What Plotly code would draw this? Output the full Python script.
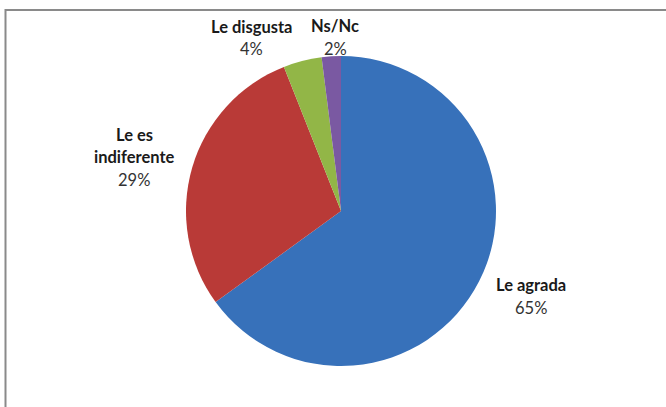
import plotly.graph_objects as go

# Data
categories = ["Le agrada", "Le es indiferente", "Le disgusta", "Ns/Nc"]
values = [65, 29, 4, 2]
percent_labels = ["65%", "29%", "4%", "2%"]
name_lines = [["Le agrada"], ["Le es", "indiferente"], ["Le disgusta"], ["Ns/Nc"]]

# Styles / layout
colors = ["#3771BA", "#B93A37", "#92B647", "#7A59A2"]
W, H = 666, 407
cx, cy, r = 341, 211, 155
# label line centres in pixels: (x, [y for each line ... , y of percent])
label_pos = [
    (531, [285, 308]),
    (134, [135, 157, 180]),
    (251, [27, 49]),
    (335, [26, 49]),
]
font_family = "Lato, 'Open Sans', sans-serif"
text_color = "#1a1a1a"

fig = go.Figure()
fig.add_trace(go.Pie(
    labels=categories,
    values=values,
    marker=dict(colors=colors, line=dict(width=0)),
    sort=False,
    direction="clockwise",
    rotation=0,
    textinfo="none",
    hoverinfo="label+percent",
    showlegend=False,
    domain=dict(x=[(cx - r) / W, (cx + r) / W], y=[1 - (cy + r) / H, 1 - (cy - r) / H]),
))

annotations = []
for i, cat in enumerate(categories):
    x, ys = label_pos[i]
    lines = name_lines[i] + [percent_labels[i]]
    for j, line in enumerate(lines):
        is_pct = j == len(lines) - 1
        annotations.append(dict(
            x=x / W, y=1 - ys[j] / H, xref="paper", yref="paper",
            text=line if is_pct else f"<b>{line}</b>",
            showarrow=False, xanchor="center", yanchor="middle",
            font=dict(family=font_family, size=16.5, color="#333333" if is_pct else text_color),
        ))

fig.update_layout(
    width=W, height=H,
    margin=dict(l=0, r=0, t=0, b=0),
    paper_bgcolor="white",
    plot_bgcolor="white",
    annotations=annotations,
    shapes=[dict(type="rect", xref="paper", yref="paper",
                 x0=5.5 / W, x1=1.05, y0=-0.05, y1=1 - 10 / H,
                 line=dict(color="#8a8a8a", width=2))],
)

fig.write_html(
    "out.html",
    config={"displayModeBar": False},
    post_script="document.body.style.margin='0';document.body.style.overflow='hidden';",
)
